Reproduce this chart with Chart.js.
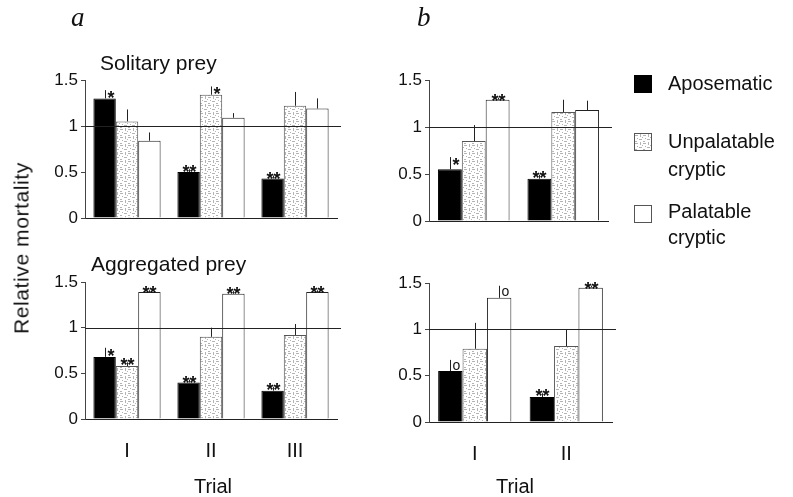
<!DOCTYPE html>
<html>
<head>
<meta charset="utf-8">
<script src="https://cdn.jsdelivr.net/npm/chart.js@4/dist/chart.umd.min.js"></script>
<style>
    body { margin: 0; background: #fff; }
    #wrap { position: relative; width: 793px; height: 497px; overflow: hidden; font-family: 'Liberation Sans', Arial, sans-serif; color: #111; }
    #wrap canvas { position: absolute; left: 0; top: 0; }
    .txt { position: absolute; white-space: nowrap; line-height: 1; }
    .panel { font-family: 'Liberation Serif', serif; font-style: italic; font-size: 27px; }
    .sq { position: absolute; width: 16px; height: 16px; border: 1px solid #222; background: #fff; }
</style>
</head>
<body>
<div id="wrap">
    <canvas id="soloA" width="793" height="497"></canvas>
    <canvas id="soloB" width="793" height="497"></canvas>
    <canvas id="aggrA" width="793" height="497"></canvas>
    <canvas id="aggrB" width="793" height="497"></canvas>

    <div class="txt panel" style="left:71px; top:4px;">a</div>
    <div class="txt panel" style="left:417px; top:4px;">b</div>
    <div class="txt" style="left:100px; top:52px; font-size:21px;">Solitary prey</div>
    <div class="txt" style="left:91px; top:253px; font-size:21px;">Aggregated prey</div>
    <div class="txt" style="left:21px; top:248px; font-size:21px; letter-spacing:0.6px; transform: translate(-50%, -50%) rotate(-90deg);">Relative mortality</div>
    <div class="txt" style="left:213px; top:486px; font-size:20px; transform: translate(-50%, -50%);">Trial</div>
    <div class="txt" style="left:515px; top:486px; font-size:20px; transform: translate(-50%, -50%);">Trial</div>

    <div class="sq" style="left:634px; top:75px; background:#000; border-color:#000;"></div>
    <div class="txt" style="left:668px; top:73px; font-size:20px;">Aposematic</div>
    <div class="sq" id="unpalSq" style="left:634px; top:133px; border-color:#555;"></div>
    <div class="txt" style="left:668px; top:131px; font-size:20px;">Unpalatable</div>
    <div class="txt" style="left:668px; top:159px; font-size:20px;">cryptic</div>
    <div class="sq" style="left:634px; top:205px; border-color:#555;"></div>
    <div class="txt" style="left:668px; top:201px; font-size:20px;">Palatable</div>
    <div class="txt" style="left:668px; top:227px; font-size:20px;">cryptic</div>
</div>
<script>
// data (relative mortality, mean and upper error)
const trialsA = ['I', 'II', 'III'];
const trialsB = ['I', 'II'];

// a - solitary prey
const soloA_apos = [1.30, 0.50, 0.43];
const soloA_aposSe = [0.09, 0.03, 0.03];
const soloA_unpal = [1.05, 1.34, 1.22];
const soloA_unpalSe = [0.13, 0.09, 0.15];
const soloA_palat = [0.84, 1.09, 1.19];
const soloA_palatSe = [0.09, 0.05, 0.11];
const soloA_marks = [['*', '**', '**'], ['', '*', ''], ['', '', '']];

// b - solitary prey
const soloB_apos = [0.55, 0.45];
const soloB_aposSe = [0.13, 0.04];
const soloB_unpal = [0.85, 1.16];
const soloB_unpalSe = [0.17, 0.13];
const soloB_palat = [1.29, 1.18];
const soloB_palatSe = [0.02, 0.10];
const soloB_marks = [['*', '**'], ['', ''], ['**', '']];

// a - aggregated prey
const aggrA_apos = [0.68, 0.40, 0.31];
const aggrA_aposSe = [0.10, 0.03, 0.04];
const aggrA_unpal = [0.58, 0.90, 0.92];
const aggrA_unpalSe = [0.04, 0.10, 0.12];
const aggrA_palat = [1.39, 1.37, 1.39];
const aggrA_palatSe = [0.02, 0.03, 0.02];
const aggrA_marks = [['*', '**', '**'], ['**', '', ''], ['**', '**', '**']];

// b - aggregated prey
const aggrB_apos = [0.55, 0.27];
const aggrB_aposSe = [0.12, 0.04];
const aggrB_unpal = [0.79, 0.82];
const aggrB_unpalSe = [0.28, 0.18];
const aggrB_palat = [1.34, 1.45];
const aggrB_palatSe = [0.13, 0.02];
const aggrB_marks = [['o', '**'], ['', ''], ['o', '**']];

const yTicks = [0, 0.5, 1, 1.5];

// speckled fill for the unpalatable cryptic bars
const pc = document.createElement('canvas');
pc.width = 8; pc.height = 8;
const p = pc.getContext('2d');
p.fillStyle = '#fff'; p.fillRect(0, 0, 8, 8);
p.fillStyle = '#b4b4b4';
p.fillRect(0, 1, 3, 1); p.fillRect(5, 0, 1, 3); p.fillRect(2, 4, 1, 1);
p.fillRect(4, 5, 3, 1); p.fillRect(0, 7, 2, 1); p.fillRect(7, 3, 1, 1);
const speckle = p.createPattern(pc, 'repeat');
document.getElementById('unpalSq').style.backgroundImage = 'url(' + pc.toDataURL() + ')';

const FONT = "'Liberation Sans', Arial, sans-serif";

// reference line at 1, error bars, significance marks
const extras = {
    id: 'extras',
    afterDatasetsDraw(chart) {
        const { ctx, chartArea, scales } = chart;
        ctx.save();
        ctx.strokeStyle = '#222';
        ctx.lineWidth = 1;
        const y1 = Math.round(scales.y.getPixelForValue(1)) + 0.5;
        ctx.beginPath();
        ctx.moveTo(chartArea.left, y1);
        ctx.lineTo(chartArea.right + 4, y1);
        ctx.stroke();

        chart.data.datasets.forEach((ds, di) => {
            chart.getDatasetMeta(di).data.forEach((bar, i) => {
                const top = scales.y.getPixelForValue(ds.data[i] + ds.se[i]);
                const x = Math.round(bar.x) + 0.5;
                ctx.beginPath();
                ctx.moveTo(x, bar.y);
                ctx.lineTo(x, top);
                ctx.stroke();

                const mark = ds.marks[i];
                ctx.fillStyle = '#111';
                ctx.textBaseline = 'alphabetic';
                if (mark === '**') {
                    ctx.font = 'bold 18px ' + FONT;
                    ctx.textAlign = 'center';
                    ctx.fillText(mark, x, top + 9);
                } else if (mark === '*') {
                    ctx.font = 'bold 18px ' + FONT;
                    ctx.textAlign = 'left';
                    ctx.fillText(mark, x + 2, top + 14);
                } else if (mark === 'o') {
                    ctx.font = '14px ' + FONT;
                    ctx.textAlign = 'left';
                    ctx.fillText(mark, x + 2, top + 10);
                }
            });
        });
        ctx.restore();
    }
};

function makePanel(id, labels, apos, aposSe, unpal, unpalSe, palat, palatSe, marks, area, showX) {
    const W = 793, H = 497;
    return new Chart(document.getElementById(id), {
        type: 'bar',
        data: {
            labels: labels,
            datasets: [{
                label: 'Aposematic',
                data: apos, se: aposSe, marks: marks[0],
                backgroundColor: '#000',
                borderColor: '#000',
                borderWidth: 1
            }, {
                label: 'Unpalatable cryptic',
                data: unpal, se: unpalSe, marks: marks[1],
                backgroundColor: speckle,
                borderColor: '#555',
                borderWidth: 1
            }, {
                label: 'Palatable cryptic',
                data: palat, se: palatSe, marks: marks[2],
                backgroundColor: '#fff',
                borderColor: '#222',
                borderWidth: 1
            }]
        },
        options: {
            responsive: false,
            animation: false,
            devicePixelRatio: 1,
            events: [],
            categoryPercentage: 0.8,
            barPercentage: 1.0,
            layout: {
                padding: {
                    left: area.left - 40,
                    right: W - area.right,
                    top: area.top,
                    bottom: H - area.bottom - 40
                }
            },
            plugins: {
                legend: { display: false },
                tooltip: { enabled: false }
            },
            scales: {
                x: {
                    afterFit: s => { s.height = 40; },
                    grid: { display: false, drawTicks: false },
                    border: { display: true, color: '#222', width: 1 },
                    ticks: {
                        display: showX,
                        padding: 20,
                        color: '#111',
                        font: { family: FONT, size: 20 }
                    }
                },
                y: {
                    min: 0,
                    max: 1.5,
                    afterFit: s => { s.width = 40; },
                    afterBuildTicks: s => { s.ticks = yTicks.map(v => ({ value: v })); },
                    grid: { drawOnChartArea: false, drawTicks: true, tickLength: 4, color: '#444' },
                    border: { display: true, color: '#444', width: 1 },
                    ticks: {
                        padding: 3,
                        color: '#111',
                        font: { family: FONT, size: 17 },
                        callback: v => String(v)
                    }
                }
            }
        },
        plugins: [extras]
    });
}

makePanel('soloA', trialsA, soloA_apos, soloA_aposSe, soloA_unpal, soloA_unpalSe,
    soloA_palat, soloA_palatSe, soloA_marks, { left: 85, right: 337, top: 80, bottom: 218 }, false);
makePanel('soloB', trialsB, soloB_apos, soloB_aposSe, soloB_unpal, soloB_unpalSe,
    soloB_palat, soloB_palatSe, soloB_marks, { left: 429, right: 608, top: 80, bottom: 221 }, false);
makePanel('aggrA', trialsA, aggrA_apos, aggrA_aposSe, aggrA_unpal, aggrA_unpalSe,
    aggrA_palat, aggrA_palatSe, aggrA_marks, { left: 85, right: 337, top: 282, bottom: 419 }, true);
makePanel('aggrB', trialsB, aggrB_apos, aggrB_aposSe, aggrB_unpal, aggrB_unpalSe,
    aggrB_palat, aggrB_palatSe, aggrB_marks, { left: 429, right: 612, top: 283, bottom: 422 }, true);
</script>
</body>
</html>
